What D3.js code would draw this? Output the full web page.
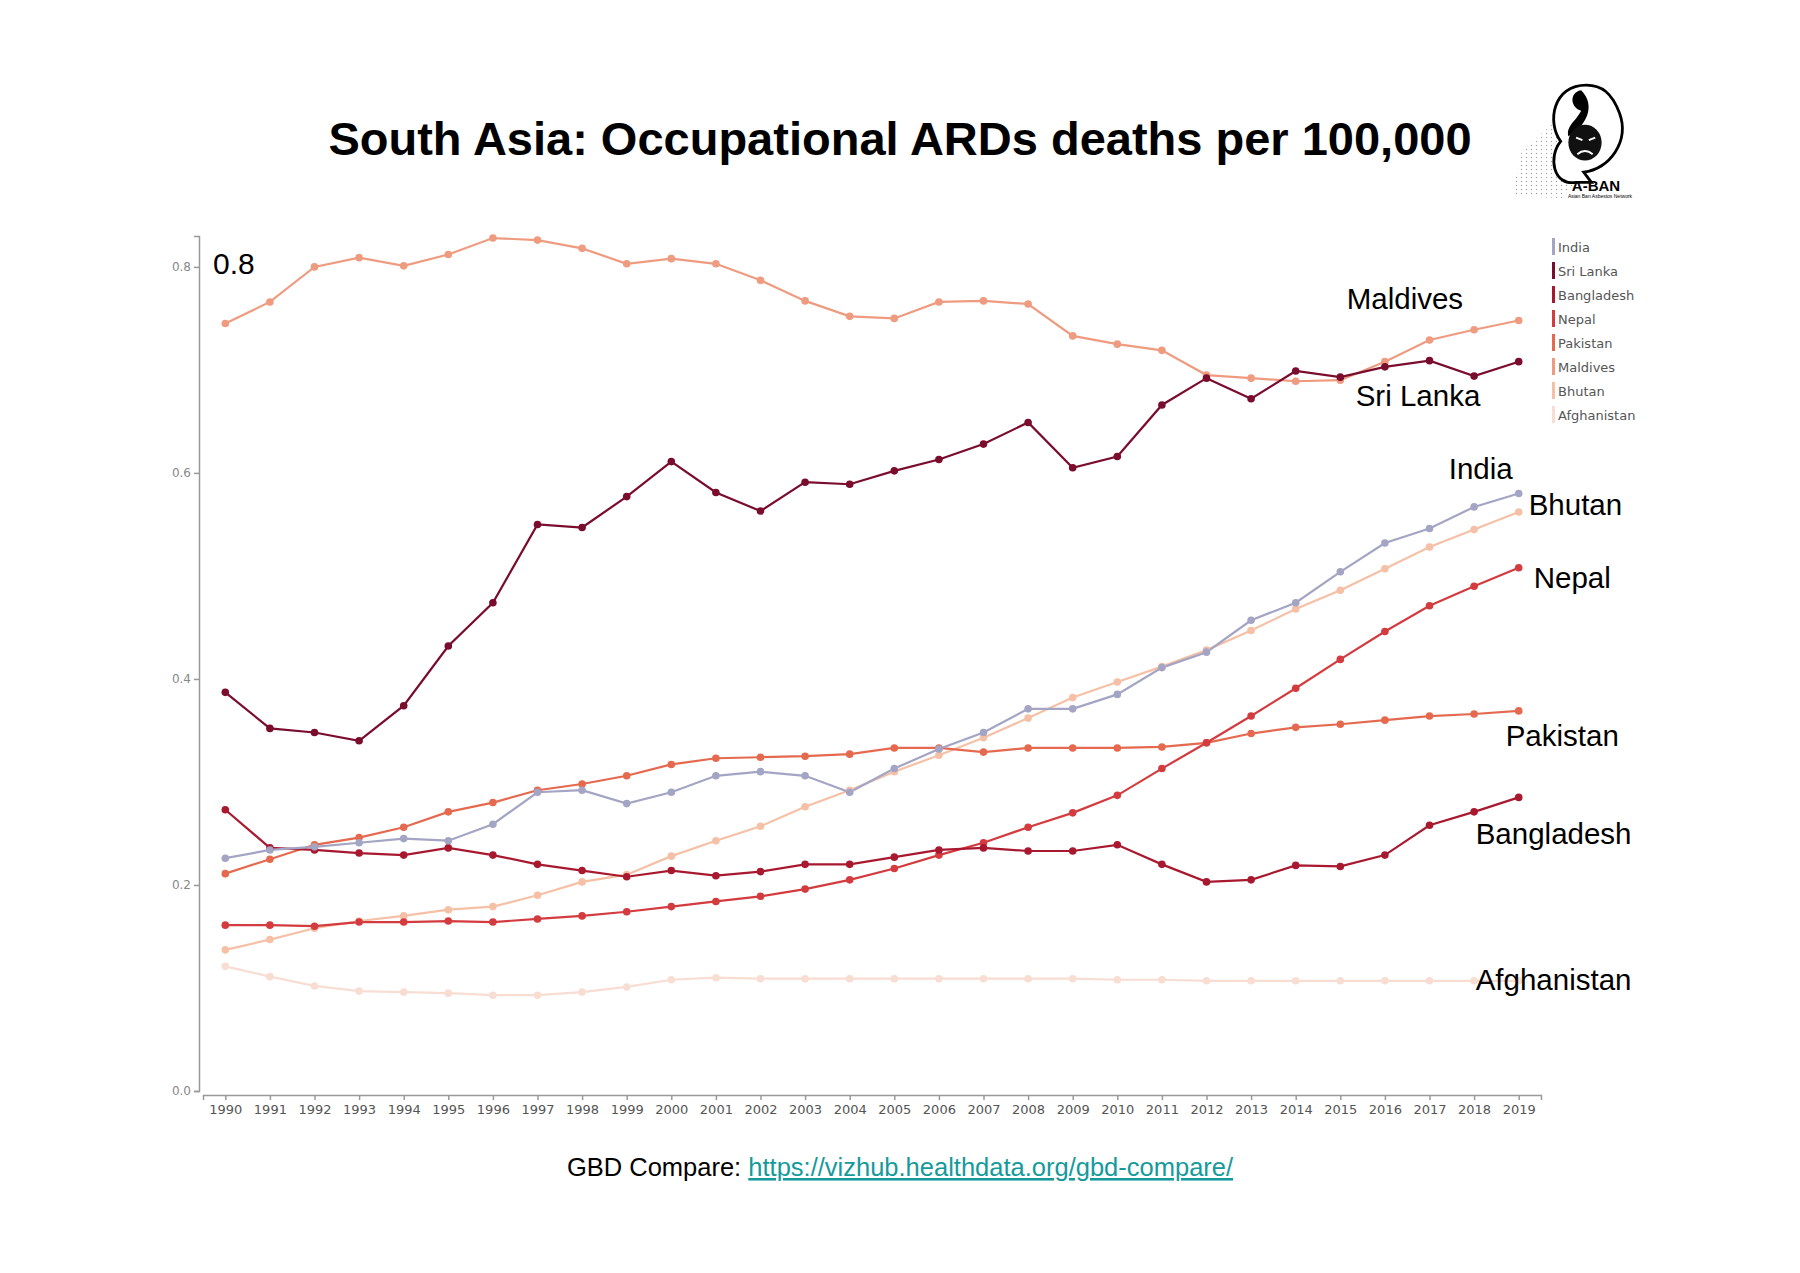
<!DOCTYPE html>
<html>
<head>
<meta charset="utf-8">
<script src="https://cdn.jsdelivr.net/npm/d3@7"></script>
<style>
  body { margin: 0; background: #fff; }
</style>
</head>
<body>
<div class="chart"></div>
<script>
// years along the x axis
const years = [1990, 1991, 1992, 1993, 1994, 1995, 1996, 1997, 1998, 1999,
               2000, 2001, 2002, 2003, 2004, 2005, 2006, 2007, 2008, 2009,
               2010, 2011, 2012, 2013, 2014, 2015, 2016, 2017, 2018, 2019]

// deaths per 100,000
const india = [0.226, 0.234, 0.237, 0.241, 0.245, 0.243, 0.259, 0.290, 0.292, 0.279,
               0.290, 0.306, 0.310, 0.306, 0.290, 0.313, 0.332, 0.348, 0.371, 0.371,
               0.385, 0.411, 0.426, 0.457, 0.474, 0.504, 0.532, 0.546, 0.567, 0.580]
const sriLanka = [0.387, 0.352, 0.348, 0.340, 0.374, 0.432, 0.474, 0.550, 0.547, 0.577,
                  0.611, 0.581, 0.563, 0.591, 0.589, 0.602, 0.613, 0.628, 0.649, 0.605,
                  0.616, 0.666, 0.692, 0.672, 0.699, 0.693, 0.703, 0.709, 0.694, 0.708]
const bangladesh = [0.273, 0.236, 0.234, 0.231, 0.229, 0.236, 0.229, 0.220, 0.214, 0.208,
                    0.214, 0.209, 0.213, 0.220, 0.220, 0.227, 0.234, 0.236, 0.233, 0.233,
                    0.239, 0.220, 0.203, 0.205, 0.219, 0.218, 0.229, 0.258, 0.271, 0.285]
const nepal = [0.161, 0.161, 0.160, 0.164, 0.164, 0.165, 0.164, 0.167, 0.170, 0.174,
               0.179, 0.184, 0.189, 0.196, 0.205, 0.216, 0.229, 0.241, 0.256, 0.270,
               0.287, 0.313, 0.338, 0.364, 0.391, 0.419, 0.446, 0.471, 0.490, 0.508]
const pakistan = [0.211, 0.225, 0.239, 0.246, 0.256, 0.271, 0.280, 0.292, 0.298, 0.306,
                  0.317, 0.323, 0.324, 0.325, 0.327, 0.333, 0.333, 0.329, 0.333, 0.333,
                  0.333, 0.334, 0.338, 0.347, 0.353, 0.356, 0.360, 0.364, 0.366, 0.369]
const maldives = [0.745, 0.766, 0.800, 0.809, 0.801, 0.812, 0.828, 0.826, 0.818, 0.803,
                  0.808, 0.803, 0.787, 0.767, 0.752, 0.750, 0.766, 0.767, 0.764, 0.733,
                  0.725, 0.719, 0.695, 0.692, 0.689, 0.690, 0.708, 0.729, 0.739, 0.748]
const bhutan = [0.137, 0.147, 0.158, 0.165, 0.170, 0.176, 0.179, 0.190, 0.203, 0.210,
                0.228, 0.243, 0.257, 0.276, 0.292, 0.310, 0.326, 0.343, 0.362, 0.382,
                0.397, 0.412, 0.428, 0.447, 0.468, 0.486, 0.507, 0.528, 0.545, 0.562]
const afghanistan = [0.121, 0.111, 0.102, 0.097, 0.096, 0.095, 0.093, 0.093, 0.096, 0.101,
                     0.108, 0.110, 0.109, 0.109, 0.109, 0.109, 0.109, 0.109, 0.109, 0.109,
                     0.108, 0.108, 0.107, 0.107, 0.107, 0.107, 0.107, 0.107, 0.107, 0.107]

const countries = ['India', 'Sri Lanka', 'Bangladesh', 'Nepal', 'Pakistan', 'Maldives', 'Bhutan', 'Afghanistan']
const colors = ['#a4a4c4', '#7a0c2e', '#a8192f', '#d33b3f', '#e5694f', '#ee9b7f', '#f5c0a6', '#f8ddd3']
const yTicks = [0.0, 0.2, 0.4, 0.6, 0.8]

const seriesArr = [india, sriLanka, bangladesh, nepal, pakistan, maldives, bhutan, afghanistan]
const series = countries.map(function(c, i) {
    return {name: c, color: colors[i], values: seriesArr[i].map(function(v, j) { return {year: years[j], value: v} })}
})

// where each end label sits relative to the 2019 point
const labelOffset = {
    'Maldives': [-172, -11], 'Sri Lanka': [-163, 44], 'India': [-70, -15], 'Bhutan': [10, 3],
    'Nepal': [15, 20], 'Pakistan': [-13, 35], 'Bangladesh': [-43, 47], 'Afghanistan': [-43, 9]
}

const W = 1800
const H = 1273

const svg = d3.select('.chart').append('svg')
    .attr('width', W)
    .attr('height', H)
    .style('font-family', 'Liberation Sans, Arial, sans-serif')

svg.append('rect').attr('width', W).attr('height', H).attr('fill', '#fff')

const x = d3.scalePoint()
    .domain(years)
    .range([203, 1541])
    .padding(0.5)

const y = d3.scaleLinear()
    .domain([0, 0.83])
    .range([1091, 236])

// title
svg.append('text')
    .attr('x', 900)
    .attr('y', 155)
    .attr('text-anchor', 'middle')
    .style('font-size', '47px')
    .style('font-weight', 'bold')
    .text('South Asia: Occupational ARDs deaths per 100,000')

// axes
const yAxis = d3.axisLeft(y)
    .tickValues(yTicks)
    .tickFormat(d3.format('.1f'))
    .tickSize(5)
    .tickPadding(3)

const gy = svg.append('g')
    .attr('transform', 'translate(199,0)')
    .call(yAxis)
gy.selectAll('path, line').attr('stroke', '#999').attr('stroke-width', 1.5)
gy.selectAll('text').attr('fill', '#888').style('font-family', 'DejaVu Sans, Verdana, sans-serif').style('font-size', '12px')

const xAxis = d3.axisBottom(x)
    .tickSize(5)
    .tickSizeOuter(5)
    .tickPadding(5)

const gx = svg.append('g')
    .attr('transform', 'translate(0,1095)')
    .call(xAxis)
gx.selectAll('path, line').attr('stroke', '#999').attr('stroke-width', 1.5)
gx.selectAll('text').attr('fill', '#555').style('font-family', 'DejaVu Sans, Verdana, sans-serif').style('font-size', '13px')

// big 0.8 note
svg.append('text')
    .attr('x', 213)
    .attr('y', 274)
    .style('font-size', '30px')
    .text('0.8')

// lines
const line = d3.line()
    .x(function(d) { return x(d.year) })
    .y(function(d) { return y(d.value) })

const drawOrder = series.slice().reverse()

const g = svg.append('g')
g.selectAll('.line')
    .data(drawOrder)
    .enter()
    .append('path')
    .attr('class', 'line')
    .attr('d', function(d) { return line(d.values) })
    .attr('fill', 'none')
    .attr('stroke', function(d) { return d.color })
    .attr('stroke-width', 2.2)

g.selectAll('.dots')
    .data(drawOrder)
    .enter()
    .append('g')
    .attr('fill', function(d) { return d.color })
    .selectAll('circle')
    .data(function(d) { return d.values })
    .enter()
    .append('circle')
    .attr('cx', function(d) { return x(d.year) })
    .attr('cy', function(d) { return y(d.value) })
    .attr('r', 3.8)

// end labels
svg.selectAll('.endlabel')
    .data(series)
    .enter()
    .append('text')
    .attr('class', 'endlabel')
    .attr('x', function(d) { return x(2019) + labelOffset[d.name][0] })
    .attr('y', function(d) { return y(d.values[d.values.length - 1].value) + labelOffset[d.name][1] })
    .style('font-size', '29.5px')
    .text(function(d) { return d.name })

// legend
const legend = svg.append('g')
    .attr('transform', 'translate(1552,247)')
const item = legend.selectAll('g')
    .data(series)
    .enter()
    .append('g')
    .attr('transform', function(d, i) { return 'translate(0,' + (i * 24) + ')' })
item.append('rect')
    .attr('x', 0)
    .attr('y', -9)
    .attr('width', 3)
    .attr('height', 17)
    .attr('fill', function(d) { return d.color })
item.append('text')
    .attr('x', 6)
    .attr('y', 5)
    .attr('fill', '#555')
    .style('font-family', 'DejaVu Sans, Verdana, sans-serif')
    .style('font-size', '13px')
    .text(function(d) { return d.name })

// source line
const src = svg.append('text')
    .attr('x', 900)
    .attr('y', 1176)
    .attr('text-anchor', 'middle')
    .style('font-size', '25.5px')
src.append('tspan').attr('fill', '#000').text('GBD Compare: ')
src.append('tspan')
    .attr('fill', '#159a9c')
    .style('text-decoration', 'underline')
    .text('https://vizhub.healthdata.org/gbd-compare/')

// A-BAN logo, drawn roughly
const logo = svg.append('g')
const defs = svg.append('defs')
defs.append('pattern')
    .attr('id', 'spray')
    .attr('width', 5)
    .attr('height', 4)
    .attr('patternUnits', 'userSpaceOnUse')
    .append('circle')
    .attr('cx', 1.5).attr('cy', 1.5).attr('r', 0.7).attr('fill', '#777')
logo.append('path')
    .attr('d', 'M1512,196 L1522,150 L1572,108 L1590,165 L1562,198 Z')
    .attr('fill', 'url(#spray)')
    .attr('opacity', 0.7)
const mark = logo.append('g')
    .attr('transform', 'translate(1585,135) scale(1.28) translate(-1585,-135)')
mark.append('path')
    .attr('d', 'M1586,96 C1560,96 1555,125 1566,140 C1556,152 1560,175 1578,172 L1590,172 L1584,164 C1604,162 1620,140 1612,118 C1606,102 1598,96 1586,96 Z')
    .attr('fill', '#fff')
    .attr('stroke', '#000')
    .attr('stroke-width', 2.2)
mark.append('path')
    .attr('d', 'M1582,100 C1572,102 1574,114 1582,116 C1578,124 1570,128 1572,136 C1586,128 1594,112 1582,100 Z')
    .attr('fill', '#000')
mark.append('ellipse')
    .attr('cx', 1585).attr('cy', 141).attr('rx', 13).attr('ry', 14)
    .attr('fill', '#111')
mark.append('path')
    .attr('d', 'M1578,137 l5,2 M1588,139 l5,-2 M1579,150 q6,-5 12,0')
    .attr('stroke', '#fff').attr('stroke-width', 1.5).attr('fill', 'none')
logo.append('text')
    .attr('x', 1596).attr('y', 191)
    .attr('text-anchor', 'middle')
    .style('font-size', '15px')
    .style('font-weight', 'bold')
    .text('A-BAN')
logo.append('text')
    .attr('x', 1600).attr('y', 198)
    .attr('text-anchor', 'middle')
    .style('font-size', '5px')
    .text('Asian Ban Asbestos Network')
</script>
</body>
</html>
